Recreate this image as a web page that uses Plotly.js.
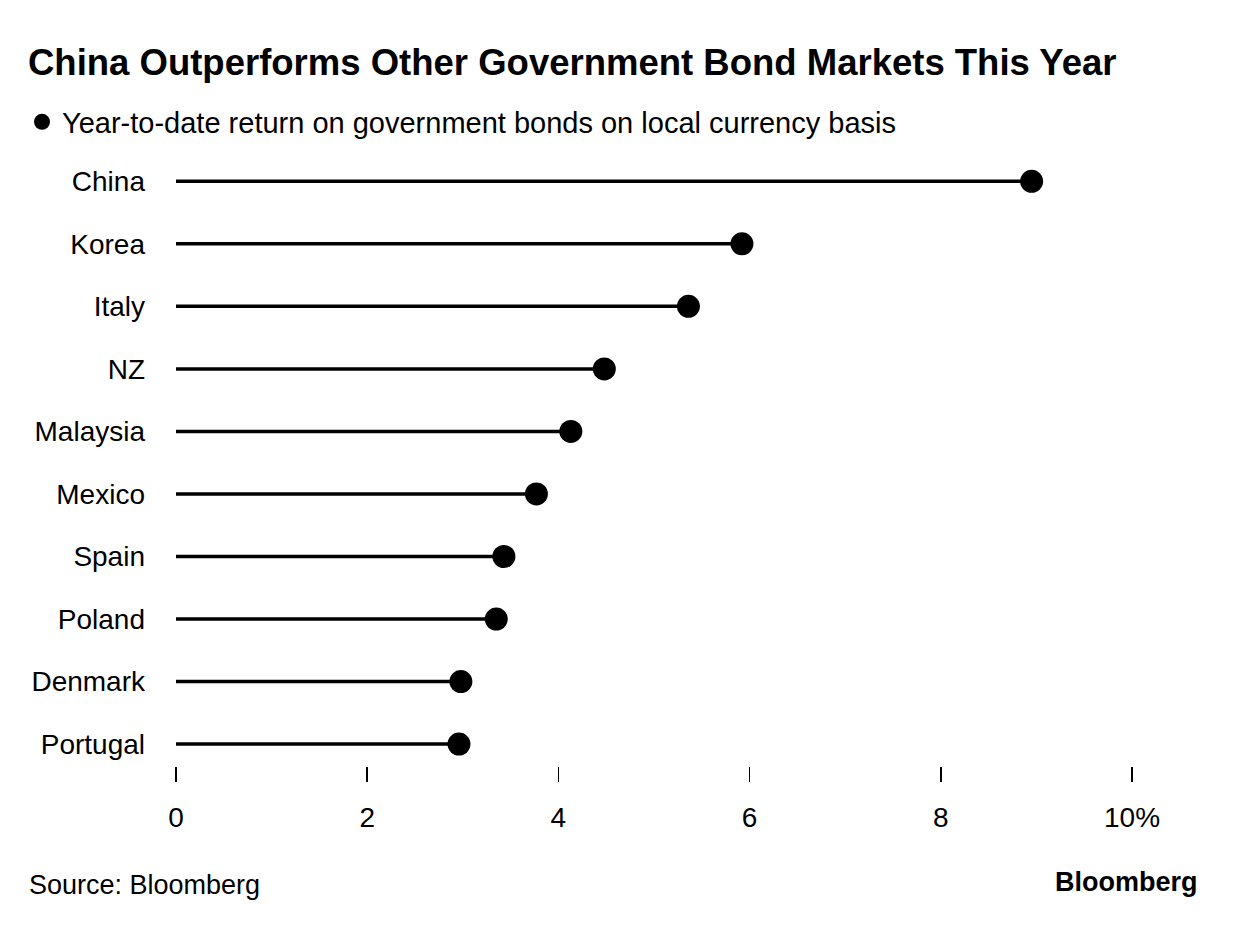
<!DOCTYPE html>
<html>
<head>
<meta charset="utf-8">
<script src="https://cdn.plot.ly/plotly-3.0.1.min.js"></script>
<style>html,body{margin:0;padding:0;background:#fff;}#chart{width:1237px;height:942px;}</style>
</head>
<body>
<div id="chart"></div>
<script>
const countries = ["China","Korea","Italy","NZ","Malaysia","Mexico","Spain","Poland","Denmark","Portugal"];
const returns = [8.95, 5.92, 5.36, 4.48, 4.13, 3.77, 3.43, 3.35, 2.98, 2.96];
const tickVals = [0, 2, 4, 6, 8, 10];
const tickLabels = ["0", "2", "4", "6", "8", "10%"];
const seriesName = "Year-to-date return on government bonds on local currency basis";

const FONT = "'Liberation Sans', Arial, Helvetica, sans-serif";

// stems built from the data
const stemX = [], stemY = [];
countries.forEach((c, i) => { stemX.push(0, returns[i], null); stemY.push(c, c, null); });

const traces = [
  {type: "scatter", mode: "lines", x: stemX, y: stemY, line: {color: "#000", width: 3.5},
   showlegend: false, hoverinfo: "skip", cliponaxis: false},
  {type: "scatter", mode: "markers", x: returns, y: countries, name: seriesName,
   marker: {color: "#000", size: 23, line: {width: 0}}, cliponaxis: false}
];

const L = 176, R = 1132, T = 150, B = 766;
const px = p => (p - L) / (R - L);
const py = p => (B - p) / (B - T);

const layout = {
  width: 1237, height: 942,
  margin: {l: L, r: 1237 - R, t: T, b: 942 - B},
  paper_bgcolor: "#fff", plot_bgcolor: "#fff",
  font: {family: FONT, color: "#000", size: 28},
  title: {text: "<b>China Outperforms Other Government Bond Markets This Year</b>",
          font: {family: FONT, size: 36.5, color: "#000"},
          x: 28 / 1237, xref: "container", xanchor: "left",
          y: 1 - 62 / 942, yref: "container", yanchor: "middle"},
  showlegend: true,
  legend: {x: px(22), y: py(122), xanchor: "left", yanchor: "middle",
           font: {family: FONT, size: 29, color: "#000"}, bgcolor: "rgba(0,0,0,0)",
           itemsizing: "trace"},
  xaxis: {range: [0, 10], tickvals: tickVals, ticktext: tickLabels,
          ticks: "outside", ticklen: 15, tickwidth: 1.5, tickcolor: "#000",
          showgrid: false, zeroline: false, showline: false,
          ticklabelstandoff: 11, tickfont: {family: FONT, size: 28, color: "#000"},
          fixedrange: true},
  yaxis: {type: "category", categoryorder: "array", categoryarray: countries,
          range: [9.35, -0.5], showgrid: false, zeroline: false, showline: false,
          ticks: "", ticklabelstandoff: 30, tickfont: {family: FONT, size: 28, color: "#000"},
          fixedrange: true},
  annotations: [
    {text: "Source: Bloomberg", xref: "paper", yref: "paper", x: px(27), y: py(885),
     xanchor: "left", yanchor: "middle", showarrow: false,
     font: {family: FONT, size: 27, color: "#000"}},
    {text: "<b>Bloomberg</b>", xref: "paper", yref: "paper", x: px(1200), y: py(882),
     xanchor: "right", yanchor: "middle", showarrow: false,
     font: {family: FONT, size: 27, color: "#000"}}
  ]
};

Plotly.newPlot("chart", traces, layout, {displayModeBar: false, staticPlot: true});
</script>
</body>
</html>
